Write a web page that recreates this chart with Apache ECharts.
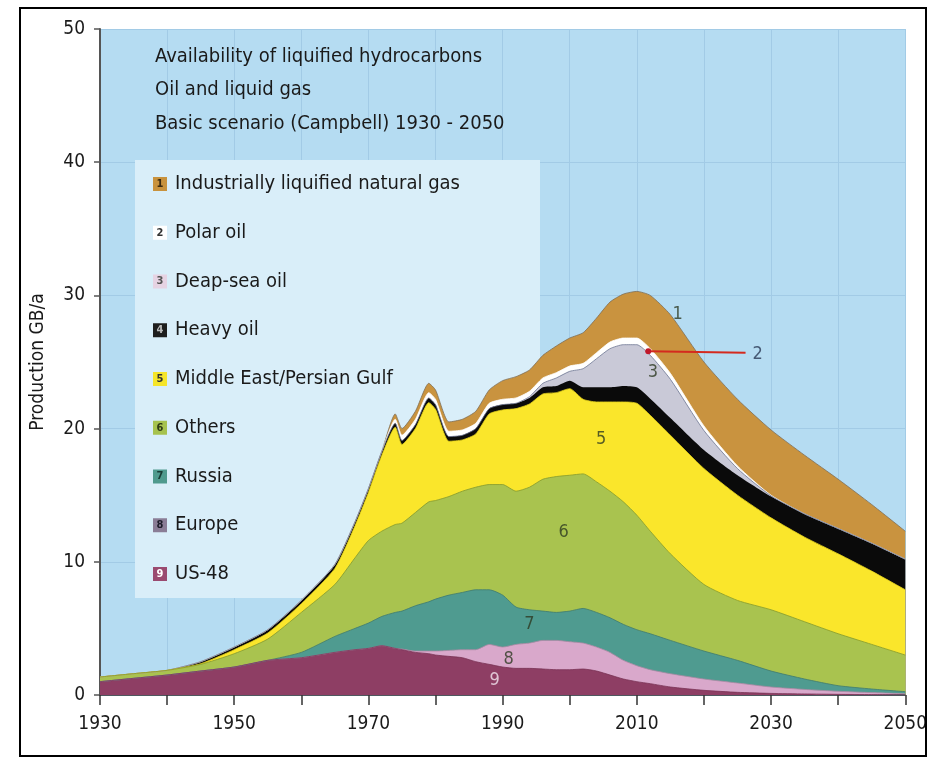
<!DOCTYPE html>
<html><head><meta charset="utf-8">
<script src="https://cdn.jsdelivr.net/npm/echarts@6/dist/echarts.min.js"></script>
<style>html,body{margin:0;padding:0;background:#fff}#c{width:930px;height:762px}</style>
</head><body><div id="c"></div>
<script>
const years = [1930,1935,1940,1945,1950,1955,1960,1965,1968,1970,1972,1974,1975,1977,1979,1980,1982,1984,1986,1988,1990,1992,1994,1996,1998,2000,2002,2004,2006,2008,2010,2012,2015,2020,2025,2030,2035,2040,2045,2050];
const us48 = [1.0,1.25,1.5,1.8,2.1,2.6,2.8,3.2,3.4,3.5,3.7,3.5,3.4,3.2,3.1,3.0,2.9,2.8,2.5,2.3,2.1,2.0,2.0,1.95,1.9,1.9,1.95,1.8,1.5,1.2,1.0,0.85,0.6,0.35,0.2,0.12,0.08,0.05,0.03,0.02];
const europe = [0,0,0,0,0,0,0,0,0,0,0,0,0.05,0.1,0.2,0.3,0.45,0.6,0.9,1.5,1.5,1.8,1.9,2.15,2.2,2.1,1.95,1.8,1.7,1.4,1.2,1.05,1.0,0.85,0.7,0.48,0.34,0.23,0.15,0.08];
const russia = [0,0,0,0,0,0,0.4,1.2,1.6,1.9,2.2,2.7,2.85,3.4,3.7,3.9,4.15,4.3,4.5,4.1,3.9,2.8,2.5,2.2,2.1,2.3,2.6,2.6,2.6,2.7,2.7,2.7,2.5,2.1,1.7,1.2,0.78,0.42,0.27,0.15];
const others = [0.35,0.35,0.35,0.5,1.0,1.6,3.0,3.9,5.3,6.2,6.4,6.6,6.6,7.0,7.5,7.4,7.4,7.6,7.7,7.9,8.3,8.7,9.2,9.9,10.2,10.2,10.1,9.8,9.5,9.2,8.6,7.7,6.5,5.0,4.5,4.6,4.3,3.9,3.35,2.75];
const middleEast = [0,0,0,0.05,0.3,0.45,0.65,1.2,2.4,3.6,5.7,7.3,5.9,6.3,7.45,6.85,4.15,3.85,4.0,5.3,5.6,6.2,6.25,6.4,6.3,6.5,5.6,6.0,6.7,7.5,8.4,8.7,8.9,8.7,7.9,6.9,6.35,6.0,5.5,4.9];
const heavyOil = [0,0,0,0.15,0.2,0.25,0.25,0.3,0.3,0.3,0.3,0.3,0.3,0.3,0.35,0.35,0.35,0.35,0.4,0.4,0.4,0.4,0.45,0.5,0.5,0.6,0.9,1.1,1.1,1.2,1.2,1.25,1.3,1.4,1.5,1.6,1.75,1.9,2.1,2.3];
const deepSea = [0,0,0,0,0,0,0,0,0,0,0,0,0,0,0,0,0,0,0,0,0,0,0.1,0.3,0.6,0.7,1.4,2.15,2.9,3.1,3.2,3.25,2.9,1.45,0.5,0.05,0,0,0,0];
const polar = [0,0,0,0,0,0,0,0,0,0,0,0.3,0.4,0.4,0.4,0.4,0.4,0.4,0.4,0.4,0.4,0.4,0.4,0.4,0.4,0.4,0.4,0.45,0.5,0.5,0.5,0.5,0.45,0.35,0.2,0.05,0,0,0,0];
const lng = [0,0,0,0,0,0,0,0,0,0,0,0.4,0.5,0.6,0.7,0.7,0.7,0.8,0.9,1.0,1.4,1.6,1.6,1.7,2.0,2.1,2.3,2.6,3.0,3.3,3.5,4.0,4.4,4.8,5.0,4.9,4.4,3.7,2.9,2.1];

const legendNames = ['Industrially liquified natural gas','Polar oil','Deap-sea oil','Heavy oil','Middle East/Persian Gulf','Others','Russia','Europe','US-48'];
const titleLines = ['Availability of liquified hydrocarbons','Oil and liquid gas','Basic scenario (Campbell) 1930 - 2050'];
const yAxisTitle = 'Production GB/a';
const areaLabels = [[2016.1,28.6,'1'],[2012.4,24.2,'3'],[2004.7,19.2,'5'],[1999.1,12.2,'6'],[1994.0,5.3,'7'],[1990.9,2.7,'8'],[1988.8,1.1,'9']];
const pointer = [[2011.7,25.8],[2026.2,25.7]];
const pointerLabel = [2028.0,25.6,'2'];

const FONT = "'Liberation Sans Narrow','DejaVu Sans Condensed','Arial Narrow',sans-serif";

// bottom to top
const layers = [
  {name:'US-48', data:us48, color:'#8e3e64', line:'#7a3355', w:0.8},
  {name:'Europe', data:europe, color:'#d9a8cb', line:'#a98aa3', w:0.8},
  {name:'Russia', data:russia, color:'#4f9b90', line:'#3d7a70', w:0.8},
  {name:'Others', data:others, color:'#a9c34f', line:'#83992e', w:0.8},
  {name:'Middle East/Persian Gulf', data:middleEast, color:'#fae62b', line:'#e2cf1c', w:0.8},
  {name:'Heavy oil', data:heavyOil, color:'#0a0a0a', line:'#0a0a0a', w:0},
  {name:'Deap-sea oil', data:deepSea, color:'#c9c9d7', line:'#6c7592', w:0.8},
  {name:'Polar oil', data:polar, color:'#ffffff', line:'#ffffff', w:0.8},
  {name:'Industrially liquified natural gas', data:lng, color:'#c9933f', line:'#7e6d55', w:0.8}
];

// cumulative top edge of each layer
const running = years.map(()=>0);
layers.forEach(l => { l.top = l.data.map((v,i)=> (running[i] = +(running[i] + v).toFixed(3))); });

const badge = [
  {bg:'#c8923d', c:'#3b2a10'},
  {bg:'#ffffff', c:'#333333'},
  {bg:'#e6d3e3', c:'#555555'},
  {bg:'#1e1e1e', c:'#bbbbbb'},
  {bg:'#f5e52a', c:'#333333'},
  {bg:'#a6c24e', c:'#2f3a14'},
  {bg:'#4f9a8e', c:'#183b35'},
  {bg:'#8a7d96', c:'#1d1d2a'},
  {bg:'#9a4a70', c:'#ffffff'}
];
const rich = {t:{fontFamily:FONT, fontSize:20, lineHeight:22, color:'#1a1a1a', padding:[0,0,0,8]}};
badge.forEach((b,i)=>{ rich['n'+(i+1)] = {backgroundColor:b.bg, color:b.c, width:14, height:14, lineHeight:14, align:'center', fontSize:11, fontWeight:'bold', fontFamily:FONT}; });

// draw top layer first, each filled down to the axis, lower layers paint over
const series = layers.slice().reverse().map(l => ({
  name:l.name, type:'line', smooth:0.2, symbol:'none', showSymbol:false,
  data: years.map((y,i)=>[y,l.top[i]]),
  lineStyle:{width:l.w, color:l.line},
  itemStyle:{color:l.color},
  areaStyle:{color:l.color, opacity:1, origin:'start'},
  emphasis:{disabled:true}, silent:true
}));
series.push({
  name:'pointer', type:'line', data:pointer.map((p,i)=>({value:p, symbol:i===0?'circle':'none', symbolSize:6})),
  lineStyle:{color:'#d42a1e', width:2}, itemStyle:{color:'#c0182a'}, showSymbol:true, z:5, silent:true
});
series.push({
  name:'labels', type:'scatter', symbolSize:0, z:6, silent:true,
  data: areaLabels.concat([pointerLabel]).map(d=>({value:d, label:{color: d[2]==='9' ? '#f4e6f0' : (d[2]==='2' ? '#2a3a55' : '#2d3a22')}})),
  label:{show:true, position:'inside', formatter:p=>p.value[2], fontFamily:FONT, fontSize:18}
});

const chart = echarts.init(document.getElementById('c'), null, {renderer:'canvas'});
chart.setOption({
  animation:false,
  backgroundColor:'#ffffff',
  grid:{left:100, right:22, top:29, bottom:67, show:true, backgroundColor:'#b5dcf2', borderWidth:0},
  title:{text:titleLines.join('\n'), left:150, top:35, textStyle:{fontFamily:FONT, fontSize:20, fontWeight:'normal', color:'#1a1a1a', lineHeight:33.5}},
  legend:{
    data:legendNames, orient:'vertical', left:143, top:169, itemWidth:0, itemHeight:0, itemGap:28.75,
    selectedMode:false, icon:'rect',
    formatter:name=>{const i=legendNames.indexOf(name); return '{n'+(i+1)+'|'+(i+1)+'}{t|'+name+'}';},
    textStyle:{rich:rich}
  },
  xAxis:{
    type:'value', min:1930, max:2050, interval:10,
    axisLine:{lineStyle:{color:'#333', width:1.5}},
    axisTick:{length:10, lineStyle:{color:'#333', width:1.5}},
    axisLabel:{fontFamily:FONT, fontSize:19, color:'#1a1a1a', margin:20, formatter:v=>((v-1930)%20===0? String(v):'')},
    splitLine:{show:true, lineStyle:{color:'#a2cbe6', width:1}}
  },
  yAxis:{
    type:'value', min:0, max:50, interval:10,
    name:yAxisTitle, nameLocation:'middle', nameGap:52,
    nameTextStyle:{fontFamily:FONT, fontSize:19, color:'#1a1a1a'},
    axisLine:{show:true, lineStyle:{color:'#555', width:2}},
    axisTick:{show:true, length:6, lineStyle:{color:'#555', width:1.5}},
    axisLabel:{fontFamily:FONT, fontSize:19, color:'#1a1a1a', margin:15},
    splitLine:{show:true, lineStyle:{color:'#a2cbe6', width:1}}
  },
  graphic:[
    {type:'rect', z:1, silent:true, shape:{x:135, y:160, width:405, height:438}, style:{fill:'#d9eef9'}},
    {type:'rect', z:100, silent:true, shape:{x:20, y:8, width:906, height:748}, style:{fill:'none', stroke:'#000', lineWidth:2}}
  ],
  series:series
});
</script></body></html>
